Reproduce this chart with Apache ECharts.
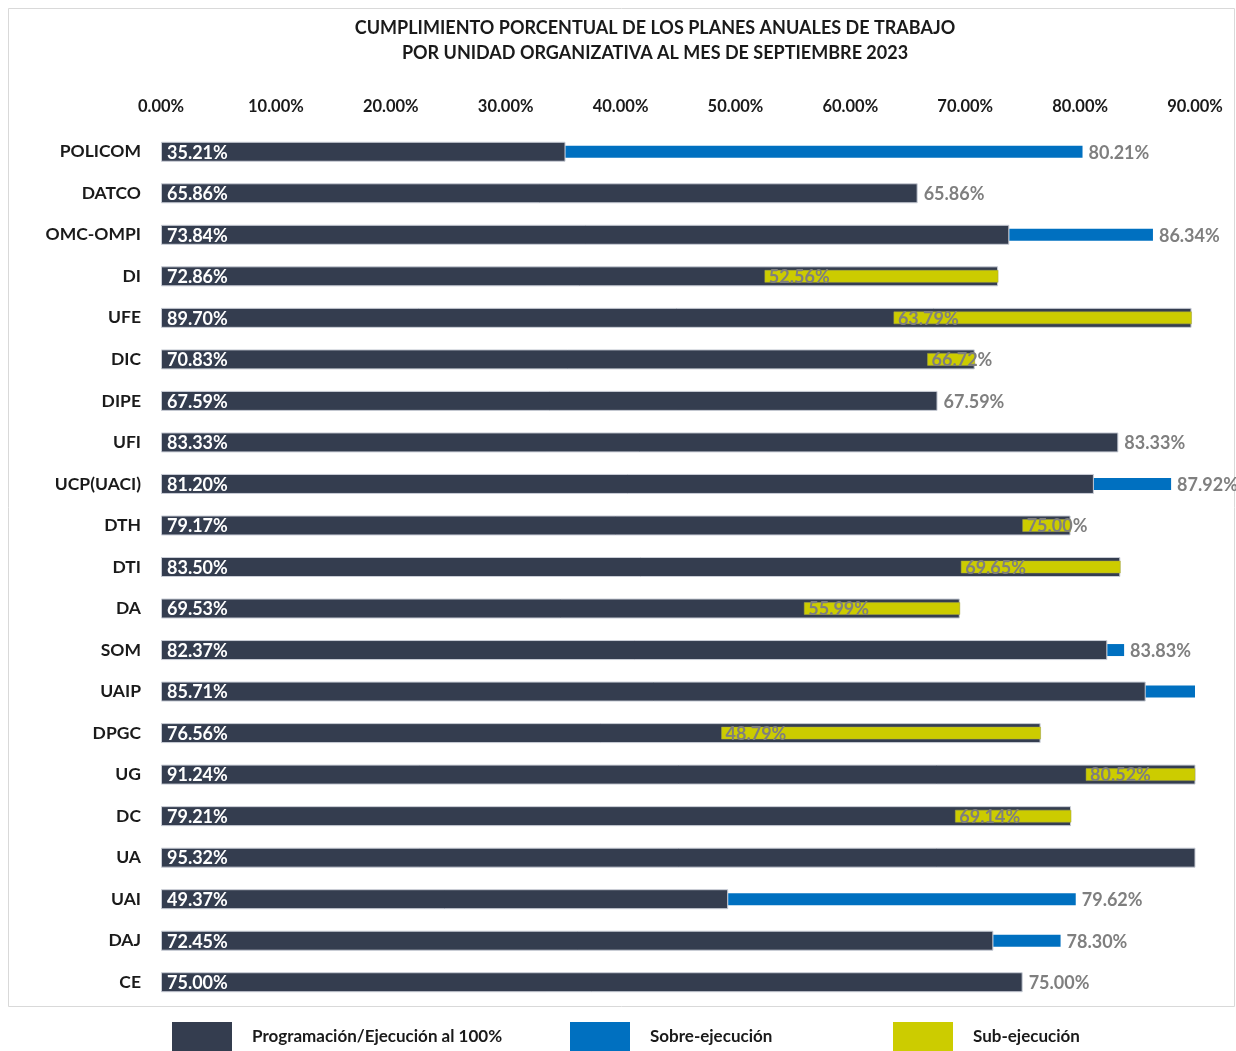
<!DOCTYPE html>
<html>
<head>
<meta charset="utf-8">
<script src="https://cdn.jsdelivr.net/npm/echarts@6/dist/echarts.min.js"></script>
<style>
html,body{margin:0;padding:0;background:#fff;}
#chart{width:1236px;height:1051px;}
</style>
</head>
<body>
<div id="chart"></div>
<script>
// ---- Data ----
var categories = ['POLICOM','DATCO','OMC-OMPI','DI','UFE','DIC','DIPE','UFI','UCP(UACI)','DTH','DTI','DA','SOM','UAIP','DPGC','UG','DC','UA','UAI','DAJ','CE'];
var programado = [35.21,65.86,73.84,72.86,89.70,70.83,67.59,83.33,81.20,79.17,83.50,69.53,82.37,85.71,76.56,91.24,79.21,95.32,49.37,72.45,75.00];
var ejecutado  = [80.21,65.86,86.34,52.56,63.79,66.72,67.59,83.33,87.92,75.00,69.65,55.99,83.83,100.00,48.79,80.52,69.14,95.32,79.62,78.30,75.00];
var xTicks = [0,10,20,30,40,50,60,70,80,90];
var titleLines = ['CUMPLIMIENTO PORCENTUAL DE LOS PLANES ANUALES DE TRABAJO','POR UNIDAD ORGANIZATIVA AL MES DE SEPTIEMBRE 2023'];
var seriesNames = ['Programación/Ejecución al 100%','Sobre-ejecución','Sub-ejecución'];

// ---- Derived ----
var sobreData = [], subData = [];
for (var i = 0; i < categories.length; i++) {
  if (ejecutado[i] >= programado[i]) sobreData.push([i, programado[i], ejecutado[i]]);
  else subData.push([i, programado[i], ejecutado[i]]);
}
var xMin = xTicks[0], xMax = xTicks[xTicks.length - 1];
function fmt(v){ return v.toFixed(2) + '%'; }

var FONT = 'Lato';
var DARK = '#343D4F', BLUE = '#0070C0', YELLOW = '#CCCC00', GREY = '#7F7F7F';

function labelStyle(txt, x, y){
  return {type:'text', z2: 10, style:{text: txt, x: x, y: y, fill: GREY, fontFamily: FONT, fontWeight: 'bold', fontSize: 18, align: 'left', verticalAlign: 'middle'}};
}
function clipBox(params){
  var cs = params.coordSys;
  return {x: cs.x, y: cs.y, width: cs.width, height: cs.height};
}

function renderSobre(params, api){
  var idx = api.value(0), p = api.value(1), e = api.value(2);
  var s = api.coord([p, idx]), t = api.coord([e, idx]);
  var h = 12, children = [];
  if (e > p) {
    var r = echarts.graphic.clipRectByRect({x: s[0], y: s[1] - h/2, width: t[0] - s[0], height: h}, clipBox(params));
    if (r) children.push({type:'rect', shape: r, style:{fill: api.visual('color')}});
  }
  if (e <= xMax) children.push(labelStyle(fmt(e), t[0] + 6, t[1] + 1));
  return {type:'group', children: children};
}
function renderSub(params, api){
  var idx = api.value(0), p = api.value(1), e = api.value(2);
  var s = api.coord([e, idx]), t = api.coord([p, idx]);
  var h = 12, children = [];
  var r = echarts.graphic.clipRectByRect({x: s[0], y: s[1] - h/2, width: t[0] - s[0], height: h}, clipBox(params));
  if (r) children.push({type:'rect', shape: r, style:{fill: api.visual('color'), stroke: '#A9A94A', lineWidth: 0.5}});
  children.push(labelStyle(fmt(e), s[0] + 4, s[1] + 1));
  return {type:'group', children: children};
}

var chart = echarts.init(document.getElementById('chart'));
var legendCommon = {
  orient: 'horizontal', top: 1022, itemWidth: 60, itemHeight: 30, icon: 'rect', padding: 0,
  selectedMode: false,
  itemStyle: {borderWidth: 0},
  textStyle: {fontFamily: FONT, fontWeight: 'bold', fontSize: 17, color: '#1a1a1a', padding: [0,0,0,15]}
};
chart.setOption({
  backgroundColor: '#fff',
  animation: false,
  title: {
    text: titleLines.join('\n'),
    left: 650, top: 11, textAlign: 'center',
    textStyle: {fontFamily: FONT, fontWeight: 'bold', fontSize: 18, color: '#1a1a1a', lineHeight: 25}
  },
  legend: [
    Object.assign({}, legendCommon, {left: 172, data: [seriesNames[0]]}),
    Object.assign({}, legendCommon, {left: 570, data: [seriesNames[1]]}),
    Object.assign({}, legendCommon, {left: 893, data: [seriesNames[2]]})
  ],
  graphic: [{
    type: 'rect', shape: {x: 8.5, y: 8.5, width: 1226, height: 998},
    style: {fill: 'none', stroke: '#D9D9D9', lineWidth: 1}, silent: true, z: -1
  }],
  grid: {left: 161, right: 41, top: 131, height: 872, containLabel: false},
  xAxis: {
    type: 'value', position: 'top', min: xMin, max: xMax, interval: 10,
    axisLine: {show: false}, axisTick: {show: false}, splitLine: {show: false},
    axisLabel: {margin: 16, formatter: function(v){ return fmt(v); }, fontFamily: FONT, fontWeight: 'bold', fontSize: 16.5, color: '#1a1a1a'}
  },
  yAxis: {
    type: 'category', data: categories, inverse: true,
    axisLine: {show: false}, axisTick: {show: false},
    axisLabel: {margin: 20, fontFamily: FONT, fontWeight: 'bold', fontSize: 17.5, color: '#1a1a1a'}
  },
  series: [
    {
      name: seriesNames[0], type: 'bar', data: programado, barWidth: 20, clip: true,
      itemStyle: {color: DARK, borderColor: '#C9CDD6', borderWidth: 1},
      label: {show: true, position: 'insideLeft', distance: 6, offset: [0, 1], formatter: function(p){ return fmt(p.value); },
        color: '#fff', fontFamily: FONT, fontWeight: 'bold', fontSize: 18}
    },
    {
      name: seriesNames[1], type: 'custom', data: sobreData, renderItem: renderSobre,
      encode: {x: [1, 2], y: 0}, itemStyle: {color: BLUE}, z: 3
    },
    {
      name: seriesNames[2], type: 'custom', data: subData, renderItem: renderSub,
      encode: {x: [1, 2], y: 0}, itemStyle: {color: YELLOW}, z: 3
    }
  ]
});
</script>
</body>
</html>
